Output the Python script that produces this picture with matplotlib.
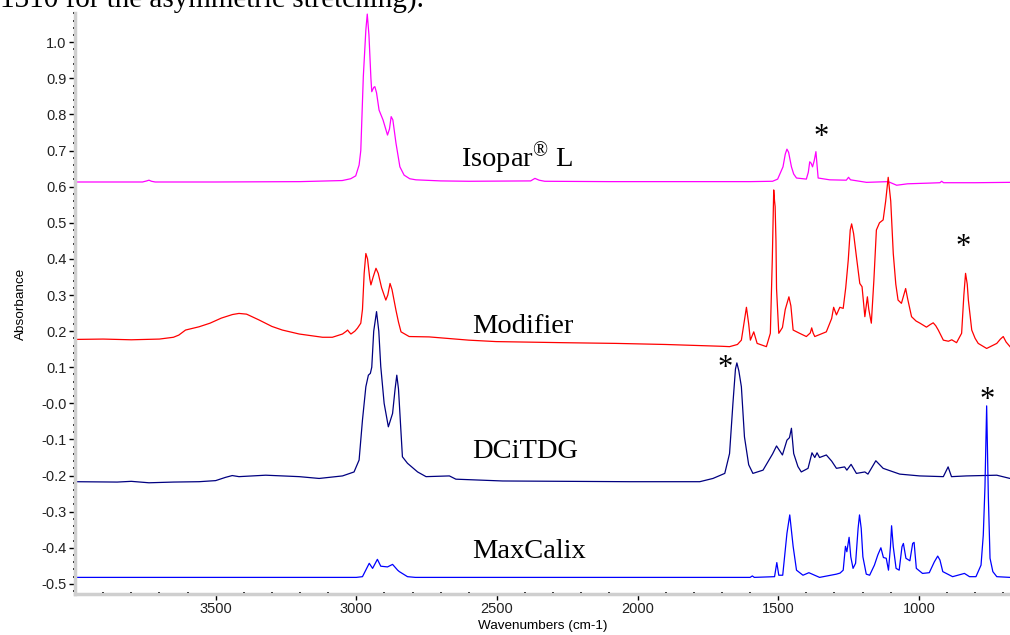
import matplotlib
matplotlib.use("Agg")
import matplotlib.pyplot as plt
from matplotlib.ticker import MultipleLocator, FixedLocator, FixedFormatter

plt.rcParams["mathtext.fontset"] = "custom"
plt.rcParams["mathtext.rm"] = "Liberation Serif"
plt.rcParams["mathtext.it"] = "Liberation Serif:italic"
plt.rcParams["mathtext.bf"] = "Liberation Serif:bold"

# ---------------- data ----------------
isopar_wn = [4000, 3900, 3760, 3745, 3737, 3728, 3715, 3500, 3200, 3050, 3020, 3002, 2990, 2984,
             2975, 2966, 2961, 2955, 2948, 2945, 2938, 2934, 2928, 2919, 2905, 2889, 2882, 2876,
             2870, 2859, 2845, 2830, 2810, 2788, 2700, 2600, 2380, 2365, 2350, 2330, 2100, 1800,
             1600, 1520, 1502, 1483, 1475, 1469, 1463, 1453, 1445, 1435, 1400, 1393, 1388, 1383,
             1378, 1372, 1366, 1362, 1358, 1317, 1258, 1250, 1243, 1186, 1109, 1079, 1040, 960,
             925, 919, 912, 800, 676]
isopar_ab = [0.613, 0.613, 0.613, 0.616, 0.618, 0.615, 0.613, 0.613, 0.614, 0.617, 0.622, 0.630,
             0.660, 0.700, 0.905, 1.034, 1.078, 1.020, 0.900, 0.863, 0.875, 0.877, 0.860, 0.812,
             0.785, 0.743, 0.760, 0.794, 0.785, 0.721, 0.655, 0.632, 0.622, 0.619, 0.616, 0.615,
             0.616, 0.623, 0.618, 0.615, 0.614, 0.614, 0.614, 0.615, 0.621, 0.655, 0.690, 0.704,
             0.695, 0.655, 0.635, 0.624, 0.621, 0.640, 0.669, 0.665, 0.655, 0.672, 0.697, 0.660,
             0.624, 0.619, 0.618, 0.626, 0.619, 0.612, 0.614, 0.604, 0.608, 0.610, 0.611, 0.615,
             0.611, 0.611, 0.612]

modifier_wn = [4000, 3900, 3800, 3700, 3650, 3631, 3607, 3559, 3520, 3480, 3440, 3417, 3390, 3346,
               3300, 3263, 3203, 3120, 3085, 3049, 3035, 3031, 3025, 3019, 3005, 2996, 2984, 2978,
               2972, 2966, 2960, 2952, 2948, 2940, 2930, 2922, 2910, 2895, 2888, 2880, 2873, 2859,
               2850, 2841, 2812, 2741, 2600, 2503, 2266, 2076, 1900, 1779, 1700, 1673, 1645, 1631,
               1620, 1613, 1605, 1599, 1587, 1575, 1542, 1528, 1521, 1516, 1513, 1511, 1508, 1506,
               1498, 1485, 1475, 1462, 1455, 1447, 1424, 1400, 1386, 1381, 1376, 1370, 1329, 1310,
               1303, 1293, 1281, 1269, 1260, 1251, 1244, 1239, 1232, 1222, 1210, 1202, 1192, 1187,
               1183, 1178, 1169, 1160, 1151, 1140, 1127, 1118, 1109, 1100, 1091, 1082, 1074, 1062,
               1047, 1040, 1026, 1010, 996, 973, 960, 949, 940, 931, 913, 895, 883, 866, 848, 840,
               834, 828, 824, 812, 800, 789, 759, 723, 710, 700, 690, 676]
modifier_ab = [0.177, 0.178, 0.176, 0.178, 0.183, 0.189, 0.203, 0.212, 0.222, 0.236, 0.246, 0.249,
               0.247, 0.231, 0.213, 0.203, 0.192, 0.183, 0.183, 0.192, 0.200, 0.203, 0.197, 0.192,
               0.200, 0.208, 0.222, 0.260, 0.360, 0.415, 0.400, 0.345, 0.328, 0.350, 0.374, 0.360,
               0.320, 0.286, 0.300, 0.332, 0.315, 0.258, 0.225, 0.198, 0.185, 0.184, 0.175, 0.171,
               0.168, 0.166, 0.163, 0.160, 0.158, 0.157, 0.163, 0.175, 0.230, 0.266, 0.220, 0.175,
               0.198, 0.166, 0.157, 0.194, 0.400, 0.591, 0.560, 0.545, 0.450, 0.318, 0.194, 0.210,
               0.260, 0.295, 0.270, 0.203, 0.194, 0.185, 0.195, 0.209, 0.195, 0.185, 0.198, 0.235,
               0.266, 0.245, 0.266, 0.263, 0.320, 0.397, 0.480, 0.497, 0.470, 0.406, 0.332, 0.323,
               0.240, 0.270, 0.295, 0.260, 0.222, 0.340, 0.480, 0.500, 0.508, 0.560, 0.626, 0.560,
               0.415, 0.330, 0.286, 0.277, 0.318, 0.290, 0.240, 0.228, 0.222, 0.211, 0.218, 0.223,
               0.215, 0.203, 0.175, 0.172, 0.176, 0.168, 0.194, 0.300, 0.360, 0.330, 0.286, 0.203,
               0.180, 0.166, 0.152, 0.166, 0.178, 0.185, 0.170, 0.157]

dcitdg_wn = [4000, 3850, 3800, 3737, 3650, 3559, 3500, 3465, 3441, 3417, 3322, 3203, 3132, 3049,
             3008, 2990, 2978, 2966, 2957, 2950, 2945, 2938, 2928, 2920, 2913, 2901, 2886, 2871,
             2862, 2856, 2850, 2847, 2836, 2818, 2782, 2752, 2669, 2646, 2480, 2028, 1779, 1732,
             1690, 1673, 1661, 1652, 1647, 1640, 1631, 1620, 1605, 1590, 1554, 1520, 1506, 1485,
             1469, 1460, 1453, 1445, 1430, 1418, 1394, 1380, 1370, 1362, 1353, 1329, 1310, 1293,
             1264, 1256, 1241, 1222, 1192, 1181, 1153, 1127, 1068, 997, 913, 896, 884, 831, 723, 676]
dcitdg_ab = [-0.217, -0.218, -0.216, -0.220, -0.218, -0.217, -0.214, -0.205, -0.200, -0.203, -0.199,
             -0.203, -0.208, -0.201, -0.190, -0.157, -0.046, 0.046, 0.078, 0.083, 0.100, 0.200,
             0.254, 0.200, 0.102, 0.000, -0.065, -0.028, 0.040, 0.078, 0.040, 0.000, -0.148,
             -0.166, -0.190, -0.203, -0.201, -0.210, -0.215, -0.217, -0.217, -0.208, -0.194,
             -0.139, 0.000, 0.095, 0.112, 0.090, 0.046, -0.093, -0.170, -0.194, -0.185, -0.140,
             -0.118, -0.143, -0.102, -0.095, -0.069, -0.139, -0.175, -0.190, -0.180, -0.137,
             -0.150, -0.137, -0.150, -0.143, -0.160, -0.180, -0.176, -0.185, -0.169, -0.194,
             -0.190, -0.196, -0.159, -0.180, -0.196, -0.201, -0.203, -0.176, -0.203, -0.201,
             -0.199, -0.208]

maxcalix_wn = [4000, 3000, 2978, 2954, 2942, 2925, 2913, 2889, 2871, 2853, 2847, 2818, 2790, 1600,
               1592, 1585, 1513, 1505, 1498, 1484, 1469, 1459, 1447, 1435, 1412, 1391, 1353, 1293,
               1280, 1269, 1261, 1256, 1248, 1242, 1234, 1225, 1216, 1211, 1205, 1199, 1187, 1175,
               1158, 1146, 1135, 1126, 1116, 1108, 1101, 1097, 1091, 1081, 1070, 1060, 1055, 1046,
               1032, 1022, 1017, 1009, 987, 963, 945, 933, 925, 915, 880, 838, 820, 797, 779, 771,
               765, 759, 753, 747, 737, 723, 676]
maxcalix_ab = [-0.482, -0.482, -0.480, -0.443, -0.457, -0.432, -0.451, -0.453, -0.446, -0.462,
               -0.466, -0.480, -0.482, -0.482, -0.478, -0.482, -0.480, -0.441, -0.476, -0.476,
               -0.360, -0.309, -0.396, -0.462, -0.476, -0.469, -0.482, -0.473, -0.470, -0.462,
               -0.396, -0.411, -0.371, -0.425, -0.457, -0.443, -0.346, -0.309, -0.346, -0.425,
               -0.473, -0.476, -0.448, -0.420, -0.400, -0.427, -0.429, -0.462, -0.397, -0.339,
               -0.397, -0.457, -0.462, -0.397, -0.388, -0.429, -0.436, -0.388, -0.385, -0.457,
               -0.471, -0.469, -0.439, -0.423, -0.434, -0.466, -0.480, -0.471, -0.480, -0.480,
               -0.448, -0.365, -0.231, -0.007, -0.259, -0.429, -0.466, -0.480, -0.482]

# label texts and anchor positions (wavenumber, absorbance)
labels = ["Isopar$^{\\mathrm{®}}$ L", "Modifier", "DCiTDG", "MaxCalix"]
label_wn = [2628, 2589, 2589, 2589]
label_ab = [0.655, 0.194, -0.152, -0.429]

star_wn = [1349, 844, 1688, 759]
star_ab = [0.752, 0.448, 0.112, 0.023]

ytick_vals = [1.0, 0.9, 0.8, 0.7, 0.6, 0.5, 0.4, 0.3, 0.2, 0.1, 0.0, -0.1, -0.2, -0.3, -0.4, -0.5]
ytick_labels = ["1.0", "0.9", "0.8", "0.7", "0.6", "0.5", "0.4", "0.3", "0.2", "0.1", "-0.0",
                "-0.1", "-0.2", "-0.3", "-0.4", "-0.5"]
xtick_vals = [3500, 3000, 2500, 2000, 1500, 1000]

# ---------------- figure ----------------
fig = plt.figure(figsize=(10.10, 6.35), dpi=100)
ax = fig.add_axes([75 / 1010, 41 / 635, 935 / 1010, 581 / 635])

lw = 0.9
ax.plot(isopar_wn, isopar_ab, color="#ff00ff", lw=lw)
ax.plot(modifier_wn, modifier_ab, color="#ff0000", lw=lw)
ax.plot(dcitdg_wn, dcitdg_ab, color="#000080", lw=lw)
ax.plot(maxcalix_wn, maxcalix_ab, color="#0000ff", lw=lw)

serif = ["Liberation Serif", "DejaVu Serif"]
for t, x, y in zip(labels, label_wn, label_ab):
    ax.text(x, y, t, family=serif, fontsize=20.5, ha="left", va="baseline", color="black")
for x, y in zip(star_wn, star_ab):
    ax.text(x, y - 0.036, "*", family=serif, fontsize=22, ha="center", va="baseline", color="black")

ax.set_xlim(4000, 676)
ax.set_ylim(-0.528, 1.081)

ax.xaxis.set_major_locator(FixedLocator(xtick_vals))
ax.xaxis.set_minor_locator(MultipleLocator(100))
ax.yaxis.set_major_locator(FixedLocator(ytick_vals))
ax.yaxis.set_major_formatter(FixedFormatter(ytick_labels))
ax.yaxis.set_minor_locator(MultipleLocator(0.02))

for s in ["top", "right"]:
    ax.spines[s].set_visible(False)
for s in ["left", "bottom"]:
    ax.spines[s].set_color("#cfcfcf")
    ax.spines[s].set_linewidth(2.5)

sans = ["Liberation Sans", "DejaVu Sans"]
ax.tick_params(which="major", direction="out", length=4, width=1.0, color="black",
               labelsize=10.5, labelcolor="#222222", pad=2)
ax.tick_params(which="minor", direction="inout", length=2.5, width=1.3, color="black")
for lab in ax.get_xticklabels() + ax.get_yticklabels():
    lab.set_family(sans)

ax.set_xlabel("Wavenumbers (cm-1)", family=sans, fontsize=9.7, labelpad=3)
ax.set_ylabel("Absorbance", family=sans, fontsize=9.7, labelpad=10)

# fragment of the surrounding document text, cut by the top edge (as in the reference)
fig.text(0.0, 1 - 7.5 / 635, "1310 for the asymmetric stretching).", family=serif,
         fontsize=21, ha="left", va="baseline", color="black")

fig.savefig("out.png", dpi=100)
